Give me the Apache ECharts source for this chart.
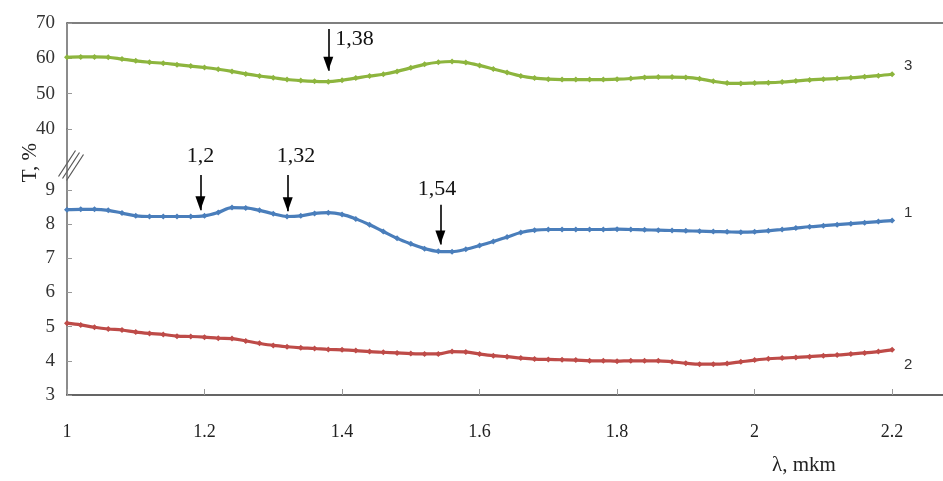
<!DOCTYPE html>
<html>
<head>
<meta charset="utf-8">
<script src="https://cdn.jsdelivr.net/npm/echarts@6/dist/echarts.min.js"></script>
<style>html,body{margin:0;padding:0;background:#fff}#c{width:943px;height:481px}</style>
</head>
<body>
<div id="c"></div>
<script>
const lambda = [1.00,1.02,1.04,1.06,1.08,1.10,1.12,1.14,1.16,1.18,1.20,1.22,1.24,1.26,1.28,1.30,1.32,1.34,1.36,1.38,1.40,1.42,1.44,1.46,1.48,1.50,1.52,1.54,1.56,1.58,1.60,1.62,1.64,1.66,1.68,1.70,1.72,1.74,1.76,1.78,1.80,1.82,1.84,1.86,1.88,1.90,1.92,1.94,1.96,1.98,2.00,2.02,2.04,2.06,2.08,2.10,2.12,2.14,2.16,2.18,2.20];
const series3 = [60.3,60.4,60.4,60.3,59.8,59.3,58.9,58.6,58.2,57.8,57.4,56.9,56.3,55.6,55.0,54.5,54.0,53.7,53.5,53.4,53.8,54.4,55.0,55.5,56.3,57.3,58.3,58.9,59.1,58.8,58.0,57.0,56.0,55.0,54.4,54.1,54.0,54.0,54.0,54.0,54.1,54.3,54.6,54.7,54.7,54.6,54.2,53.5,53.0,52.9,53.0,53.1,53.3,53.6,53.9,54.1,54.3,54.5,54.8,55.1,55.5];
const series1 = [8.42,8.43,8.43,8.40,8.32,8.24,8.22,8.22,8.22,8.22,8.24,8.34,8.48,8.47,8.40,8.30,8.22,8.24,8.31,8.33,8.28,8.15,7.98,7.78,7.58,7.42,7.28,7.20,7.19,7.26,7.37,7.49,7.62,7.75,7.82,7.84,7.84,7.84,7.84,7.84,7.85,7.84,7.83,7.82,7.81,7.80,7.79,7.78,7.77,7.76,7.77,7.80,7.84,7.88,7.92,7.95,7.98,8.01,8.04,8.07,8.10];
const series2 = [5.10,5.05,4.98,4.93,4.90,4.84,4.80,4.77,4.72,4.71,4.69,4.66,4.65,4.58,4.51,4.45,4.41,4.38,4.36,4.33,4.32,4.30,4.27,4.25,4.23,4.21,4.20,4.20,4.27,4.26,4.20,4.15,4.12,4.08,4.05,4.04,4.03,4.02,4.00,4.00,3.99,4.00,4.00,4.00,3.97,3.93,3.90,3.90,3.92,3.97,4.02,4.06,4.08,4.10,4.12,4.15,4.17,4.20,4.23,4.27,4.32];
const xTicks = [1,1.2,1.4,1.6,1.8,2,2.2];
const yTicksUpper = [40,50,60,70];
const yTicksLower = [3,4,5,6,7,8,9];
const seriesNames = ['3','1','2'];
// annotations: [lambda, arrow start, arrow tip, label x, label y, text]
const annLower = [
  [1.194, 9.43, 8.40, 1.194, 9.97, '1,2'],
  [1.321, 9.43, 8.37, 1.333, 9.97, '1,32'],
  [1.543, 8.56, 7.40, 1.538, 9.02, '1,54']
];
const annUpper = [[1.38, 68.3, 56.5, 1.418, 65.4, '1,38']];

const serif = 'Liberation Serif';
const pairs = arr => lambda.map((x, i) => [x, arr[i]]);

function marks(ann) {
  return {
    markLine: {
      silent: true, animation: false,
      symbol: ['none', 'none'],
      lineStyle: {color: '#000', width: 1.6, type: 'solid'},
      label: {show: false},
      emphasis: {disabled: true},
      data: ann.map(a => [{coord: [a[0], a[1]]}, {coord: [a[0], a[2]]}])
    },
    markPoint: {
      silent: true, animation: false,
      data: ann.map(a => ({coord: [a[3], a[4]], symbol: 'circle', symbolSize: 1,
          itemStyle: {color: 'rgba(0,0,0,0)'},
          label: {show: true, formatter: a[5], color: '#111', fontFamily: serif, fontSize: 22, position: 'inside'}}))
        .concat(ann.map(a => ({coord: [a[0], a[2]], symbol: 'path://M0,0L10,0L5,14Z', symbolSize: [10, 14],
          symbolOffset: [0, -7], itemStyle: {color: '#000'}, label: {show: false}})))
    }
  };
}

const lineCommon = (color) => ({
  type: 'line', smooth: 0.35, symbol: 'diamond', symbolSize: 6,
  lineStyle: {color, width: 3.2}, itemStyle: {color},
  animation: false
});

const chart = echarts.init(document.getElementById('c'));
chart.setOption({
  animation: false,
  grid: [
    {left: 67, right: 0, top: 23, height: 106},
    {left: 67, right: 0, top: 129, bottom: 86}
  ],
  xAxis: [
    {gridIndex: 0, type: 'value', min: 1, max: 2.274, position: 'top',
     axisLine: {show: true, lineStyle: {color: '#555', width: 1.5}},
     axisTick: {show: false}, axisLabel: {show: false}, splitLine: {show: false}},
    {gridIndex: 1, type: 'value', min: 1, max: 2.274,
     axisLine: {show: true, lineStyle: {color: '#333', width: 1.5}},
     axisTick: {show: true, inside: true, length: 6, customValues: xTicks, lineStyle: {color: '#999'}},
     axisLabel: {customValues: xTicks, margin: 28, color: '#222', fontFamily: serif, fontSize: 18},
     splitLine: {show: false}}
  ],
  yAxis: [
    {gridIndex: 0, type: 'value', min: 40, max: 70,
     axisLine: {show: true, lineStyle: {color: '#666', width: 1.5}},
     axisTick: {show: true, inside: true, length: 5, customValues: yTicksUpper, lineStyle: {color: '#999'}},
     axisLabel: {customValues: yTicksUpper, margin: 12, color: '#333', fontFamily: serif, fontSize: 19},
     splitLine: {show: false}},
    {gridIndex: 1, type: 'value', min: 3, max: 10.778,
     axisLine: {show: true, lineStyle: {color: '#666', width: 1.5}},
     axisTick: {show: true, inside: true, length: 5, customValues: yTicksLower, lineStyle: {color: '#999'}},
     axisLabel: {customValues: yTicksLower, margin: 12, color: '#333', fontFamily: serif, fontSize: 19},
     splitLine: {show: false}}
  ],
  series: [
    Object.assign(lineCommon('#8db53e'), {name: seriesNames[0], xAxisIndex: 0, yAxisIndex: 0, data: pairs(series3),
      endLabel: {show: true, formatter: seriesNames[0], offset: [4, -8], color: '#333', fontFamily: 'Liberation Sans', fontSize: 15}},
      marks(annUpper)),
    Object.assign(lineCommon('#4a7ebb'), {name: seriesNames[1], xAxisIndex: 1, yAxisIndex: 1, data: pairs(series1),
      endLabel: {show: true, formatter: seriesNames[1], offset: [4, -8], color: '#333', fontFamily: 'Liberation Sans', fontSize: 15}},
      marks(annLower)),
    Object.assign(lineCommon('#be4b48'), {name: seriesNames[2], xAxisIndex: 1, yAxisIndex: 1, data: pairs(series2),
      endLabel: {show: true, formatter: seriesNames[2], offset: [4, 15], color: '#333', fontFamily: 'Liberation Sans', fontSize: 15}})
  ],
  graphic: [
    {type: 'text', left: 20, top: 143, rotation: Math.PI / 2, style: {text: 'T, %', fontFamily: serif, fontSize: 21, fill: '#222'}},
    {type: 'group', left: 56, top: 148, children: [
      {type: 'line', shape: {x1: 0, y1: 26, x2: 17, y2: 0}, style: {stroke: '#555', lineWidth: 1.2}},
      {type: 'line', shape: {x1: 4, y1: 28, x2: 21, y2: 2}, style: {stroke: '#555', lineWidth: 1.2}},
      {type: 'line', shape: {x1: 8, y1: 30, x2: 25, y2: 4}, style: {stroke: '#555', lineWidth: 1.2}}
    ]},
    {type: 'text', left: 772, top: 455, style: {text: 'λ, mkm', fontFamily: serif, fontSize: 21, fill: '#222'}}
  ]
});
</script>
</body>
</html>
